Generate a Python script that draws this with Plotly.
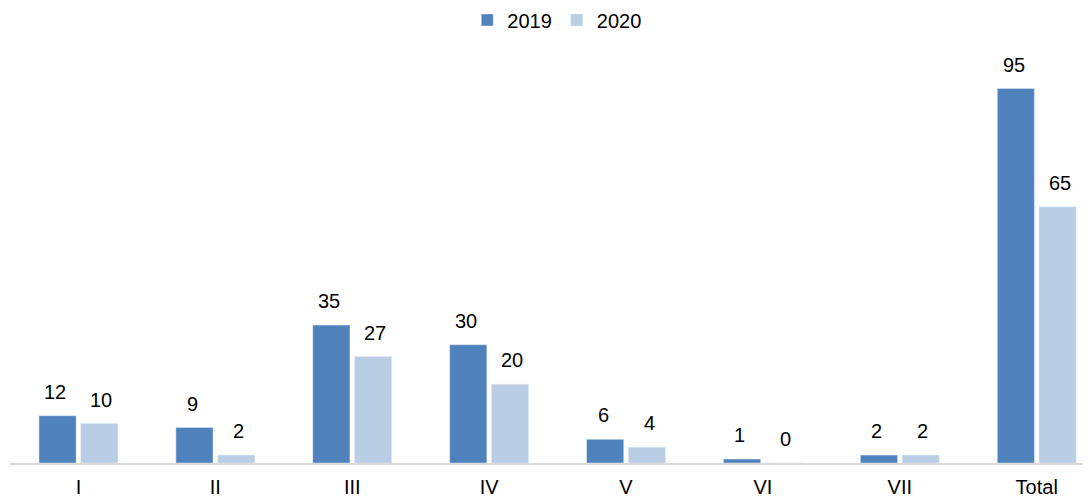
import plotly.graph_objects as go

categories = ["I", "II", "III", "IV", "V", "VI", "VII", "Total"]
values_2019 = [12, 9, 35, 30, 6, 1, 2, 95]
values_2020 = [10, 2, 27, 20, 4, 0, 2, 65]

c2019 = "#4f81bd"
c2020 = "#b9cde5"
font = "Liberation Sans, Arial, sans-serif"

fig = go.Figure()
fig.add_trace(go.Bar(name="2019", x=categories, y=values_2019, marker_color=c2019))
fig.add_trace(go.Bar(name="2020", x=categories, y=values_2020, marker_color=c2020))

for vals, shift in ((values_2019, -23), (values_2020, 23)):
    for c, v in zip(categories, vals):
        fig.add_annotation(x=c, y=v, xref="x", yref="y", text=str(v), showarrow=False,
                           xshift=shift, yshift=11, yanchor="bottom",
                           font=dict(family=font, size=20, color="#000000"))

fig.update_layout(
    width=1091, height=499,
    margin=dict(l=2, r=0, t=42, b=44),
    paper_bgcolor="white", plot_bgcolor="white",
    barmode="group", bargap=0.39, bargroupgap=0.11,
    font=dict(family=font, size=20, color="#000000"),
    legend=dict(orientation="h", x=0.503, xanchor="center", xref="container",
                y=0.976, yanchor="middle", yref="container",
                font=dict(size=20), itemwidth=30, traceorder="normal"),
    showlegend=True,
)
fig.update_xaxes(range=[-0.5, 7.455], showline=True, linecolor="#d9d9d9", linewidth=1.5,
                 ticks="", showgrid=False, tickfont=dict(size=20), ticklabelstandoff=5)
fig.update_yaxes(range=[0, 104.8], visible=False, showgrid=False, zeroline=False)

fig.write_html("out.html")
